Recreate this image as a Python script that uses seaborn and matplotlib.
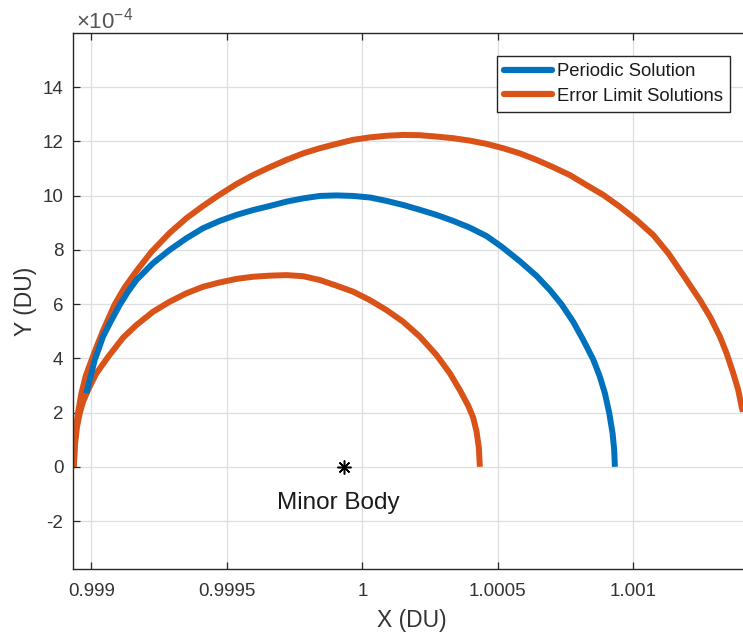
import numpy as np
import pandas as pd
import matplotlib
matplotlib.use("Agg")
import matplotlib.pyplot as plt
from matplotlib.lines import Line2D
import seaborn as sns

# ---------------- data ----------------
# Y values are in units of 1e-4 DU
periodic_x = [0.9989815, 0.9989937, 0.9990122, 0.9990428, 0.9990676, 0.9991045, 0.9991352,
              0.9991662, 0.9992275, 0.9992891, 0.9993508, 0.9994121, 0.9994738, 0.9995355,
              0.9995968, 0.9996584, 0.9997201, 0.9997814, 0.9998430, 0.9999047, 0.9999660,
              1.0000306, 1.0000923, 1.0001536, 1.0002153, 1.0002740, 1.0003353, 1.0003970,
              1.0004586, 1.0005140, 1.0005816, 1.0006433, 1.0006924, 1.0007356, 1.0007784,
              1.0008154, 1.0008523, 1.0008770, 1.0008955, 1.0009114, 1.0009239, 1.0009298,
              1.0009324]
periodic_y = [2.71, 3.20, 3.94, 4.80, 5.29, 5.97, 6.46,
              6.89, 7.51, 8.00, 8.43, 8.80, 9.07, 9.29,
              9.47, 9.62, 9.78, 9.90, 9.99, 10.01, 9.99,
              9.93, 9.80, 9.65, 9.47, 9.29, 9.07, 8.82,
              8.51, 8.12, 7.58, 7.04, 6.52, 5.99, 5.35,
              4.68, 3.96, 3.32, 2.71, 1.99, 1.23, 0.62,
              0.00]

inner_x = [0.9989350, 0.9989383, 0.9989468, 0.9989568, 0.9989690, 0.9989874, 0.9990185,
           0.9990613, 0.9991167, 0.9991662, 0.9992275, 0.9992891, 0.9993508, 0.9994121,
           0.9994738, 0.9995355, 0.9995968, 0.9996584, 0.9997201, 0.9997814, 0.9998430,
           0.9999047, 0.9999660, 1.0000277, 1.0000894, 1.0001507, 1.0002124, 1.0002740,
           1.0003231, 1.0003600, 1.0003910, 1.0004091, 1.0004217, 1.0004302, 1.0004339]
inner_y = [0.00, 0.74, 1.48, 1.97, 2.40, 2.83, 3.45,
           4.05, 4.76, 5.23, 5.72, 6.09, 6.40, 6.64,
           6.80, 6.93, 7.01, 7.05, 7.07, 7.03, 6.89,
           6.68, 6.46, 6.15, 5.78, 5.35, 4.80, 4.12,
           3.45, 2.83, 2.25, 1.82, 1.30, 0.70, 0.00]

outer_x = [0.9989350, 0.9989383, 0.9989420, 0.9989505, 0.9989631, 0.9989790, 0.9990000,
           0.9990185, 0.9990428, 0.9990860, 0.9991230, 0.9991662, 0.9992216, 0.9992891,
           0.9993508, 0.9994121, 0.9994616, 0.9995355, 0.9995968, 0.9996584, 0.9997201,
           0.9997814, 0.9998430, 0.9999047, 0.9999660, 1.0000277, 1.0000894, 1.0001507,
           1.0002124, 1.0002740, 1.0003353, 1.0003970, 1.0004586, 1.0005199, 1.0005816,
           1.0006433, 1.0007046, 1.0007662, 1.0008279, 1.0008892, 1.0009509, 1.0010126,
           1.0010739, 1.0011300, 1.0011847, 1.0012463, 1.0012832, 1.0013201, 1.0013449,
           1.0013693, 1.0013878, 1.0014003, 1.0014051]
outer_y = [0.00, 0.74, 1.35, 1.99, 2.71, 3.35, 3.92,
           4.41, 5.02, 5.99, 6.62, 7.22, 7.93, 8.63,
           9.17, 9.62, 9.96, 10.43, 10.76, 11.05, 11.32,
           11.56, 11.75, 11.91, 12.06, 12.15, 12.21, 12.24,
           12.23, 12.18, 12.12, 12.03, 11.91, 11.75, 11.56,
           11.32, 11.05, 10.76, 10.39, 10.03, 9.59, 9.10,
           8.55, 7.87, 7.07, 6.15, 5.54, 4.80, 4.18,
           3.45, 2.83, 2.21, 2.03]

body_x = [0.999933]
body_y = [0.0]
body_label = "Minor Body"

series_labels = ["Periodic Solution", "Error Limit Solutions"]
xtick_vals = [0.999, 0.9995, 1.0, 1.0005, 1.001]
xtick_labels = ["0.999", "0.9995", "1", "1.0005", "1.001"]
ytick_vals = [-2, 0, 2, 4, 6, 8, 10, 12, 14]
ytick_labels = ["-2", "0", "2", "4", "6", "8", "10", "12", "14"]
y_scale = 1e-4

# ---------------- style ----------------
sns.set_theme(style="white")
plt.rcParams["font.family"] = ["Liberation Sans", "DejaVu Sans"]
plt.rcParams["axes.unicode_minus"] = False
plt.rcParams["mathtext.fontset"] = "custom"
plt.rcParams["mathtext.rm"] = "Liberation Sans"
plt.rcParams["mathtext.it"] = "Liberation Sans"
plt.rcParams["mathtext.bf"] = "Liberation Sans"

BLUE = "#0072BD"
ORANGE = "#D95319"
AX_COL = "#262626"
TXT_COL = "#333333"

W, H = 743, 639
fig = plt.figure(figsize=(W / 100, H / 100), dpi=100)
L, R, T, B = 73, 900, 33, 569
ax = fig.add_axes([L / W, (H - B) / H, (R - L) / W, (B - T) / H])

df_p = pd.DataFrame({"x": periodic_x, "y": np.array(periodic_y) * y_scale})
df_i = pd.DataFrame({"x": inner_x, "y": np.array(inner_y) * y_scale})
df_o = pd.DataFrame({"x": outer_x, "y": np.array(outer_y) * y_scale})

lw = 4.3
line_kw = dict(sort=False, estimator=None, linewidth=lw, ax=ax, legend=False,
               solid_joinstyle="round", solid_capstyle="butt")
sns.lineplot(data=df_i, x="x", y="y", color=ORANGE, **line_kw)
sns.lineplot(data=df_o, x="x", y="y", color=ORANGE, **line_kw)
sns.lineplot(data=df_p, x="x", y="y", color=BLUE, **line_kw)

ax.plot(body_x, body_y, linestyle="none", marker=(8, 2, 0), markersize=10,
        markeredgewidth=1.1, color="black", zorder=5)
ax.text(0.999911, -1.56e-4, body_label, ha="center", va="baseline",
        fontsize=17.5, color="#1a1a1a")

ax.set_xlim(0.998932, 0.999 + (R - 91.7) / 270800)
ax.set_ylim(-3.77e-4, 16.0e-4)
ax.set_xticks(xtick_vals)
ax.set_xticklabels(xtick_labels)
ax.set_yticks(np.array(ytick_vals) * y_scale)
ax.set_yticklabels(ytick_labels)

ax.grid(True, color="#dedede", linewidth=0.9)
ax.set_axisbelow(True)
for s in ax.spines.values():
    s.set_color(AX_COL)
    s.set_linewidth(1.0)
ax.spines["right"].set_visible(False)
ax.patch.set_edgecolor("none")

ax.tick_params(direction="in", length=5, width=0.9, colors=AX_COL,
               labelcolor=TXT_COL, labelsize=13.5, top=True, right=False,
               bottom=True, left=True)
ax.tick_params(axis="x", pad=10)
ax.tick_params(axis="y", pad=7)

ax.set_xlabel("X (DU)", fontsize=16.5, color=TXT_COL)
ax.set_ylabel("Y (DU)", fontsize=16.5, color=TXT_COL)
ax.xaxis.set_label_coords((412 - L) / (R - L), (B - 609) / (B - T))
ax.yaxis.set_label_coords((37 - L) / (R - L), 0.5)

fig.text(76 / W, (H - 28) / H, r"$\times10^{-4}$", fontsize=16, color="#555555",
         va="baseline", ha="left")

handles = [Line2D([0], [0], color=BLUE, lw=4.5), Line2D([0], [0], color=ORANGE, lw=4.5)]
leg = ax.legend(handles, series_labels, loc="upper left",
                bbox_to_anchor=(497 / W, 1 - 56 / H), bbox_transform=fig.transFigure,
                borderaxespad=0, fontsize=13.3, frameon=True, fancybox=False,
                framealpha=1, edgecolor=AX_COL, handlelength=2.6,
                handletextpad=0.25, borderpad=0.4, labelspacing=0.4)
leg.get_frame().set_linewidth(1.0)
for t in leg.get_texts():
    t.set_color("#1a1a1a")

fig.savefig("out.png", dpi=100)
